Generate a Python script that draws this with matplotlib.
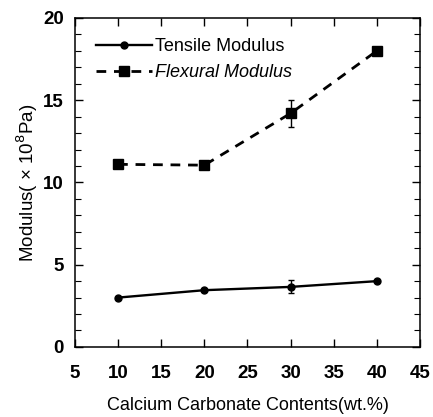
import matplotlib
matplotlib.use("Agg")
import matplotlib.pyplot as plt
from matplotlib.ticker import MultipleLocator

plt.rcParams['font.family'] = ['Liberation Sans', 'DejaVu Sans']

# data
content = [10, 20, 30, 40]
tensile = [3.0, 3.45, 3.65, 4.0]
tensile_err = [0, 0, 0.4, 0]
flexural = [11.1, 11.05, 14.2, 18.0]
flexural_err = [0, 0, 0.8, 0]

fig = plt.figure(figsize=(4.33, 4.17), dpi=100)
ax = fig.add_axes([0.173, 0.168, 0.797, 0.789])

# error bars (not in legend)
ax.errorbar(content, tensile, yerr=tensile_err, fmt='none', ecolor='black',
            capsize=2.5, elinewidth=1)
ax.errorbar(content, flexural, yerr=flexural_err, fmt='none', ecolor='black',
            capsize=2.5, elinewidth=1)
ax.plot(content, tensile, color='black', lw=1.7, marker='o', ms=5,
        label='Tensile Modulus')
ax.plot(content, flexural, color='black', lw=2.0, ls=(0, (3.5, 2.8)),
        marker='s', ms=7.5, label='Flexural Modulus')

ax.set_xlim(5, 45)
ax.set_ylim(0, 20)
ax.xaxis.set_major_locator(MultipleLocator(5))
ax.yaxis.set_major_locator(MultipleLocator(5))
ax.yaxis.set_minor_locator(MultipleLocator(1))
ax.tick_params(which='both', direction='in', top=True, right=True)
ax.tick_params(which='major', length=6, width=1, labelsize=13.5)
ax.tick_params(axis='x', which='major', pad=13)
ax.tick_params(axis='y', which='major', pad=8)
ax.tick_params(which='minor', length=4, width=0.8)
for lbl in ax.get_xticklabels() + ax.get_yticklabels():
    lbl.set_fontweight('bold')
for sp in ax.spines.values():
    sp.set_linewidth(1.1)

ax.set_xlabel('Calcium Carbonate Contents(wt.%)', fontsize=13, labelpad=11)
ax.set_ylabel('Modulus( \u00d7 10$^8$Pa)', fontsize=13.5, labelpad=2.5)

leg = ax.legend(loc='upper left', bbox_to_anchor=(0.05, 0.95), frameon=False,
                fontsize=13, handlelength=3.1, handletextpad=0.2,
                borderaxespad=0, borderpad=0.2, labelspacing=0.5)
t2 = leg.get_texts()[1]
t2.set_fontproperties(t2.get_fontproperties().copy())
t2.set_fontstyle('italic')

fig.savefig('out.png', dpi=100)
